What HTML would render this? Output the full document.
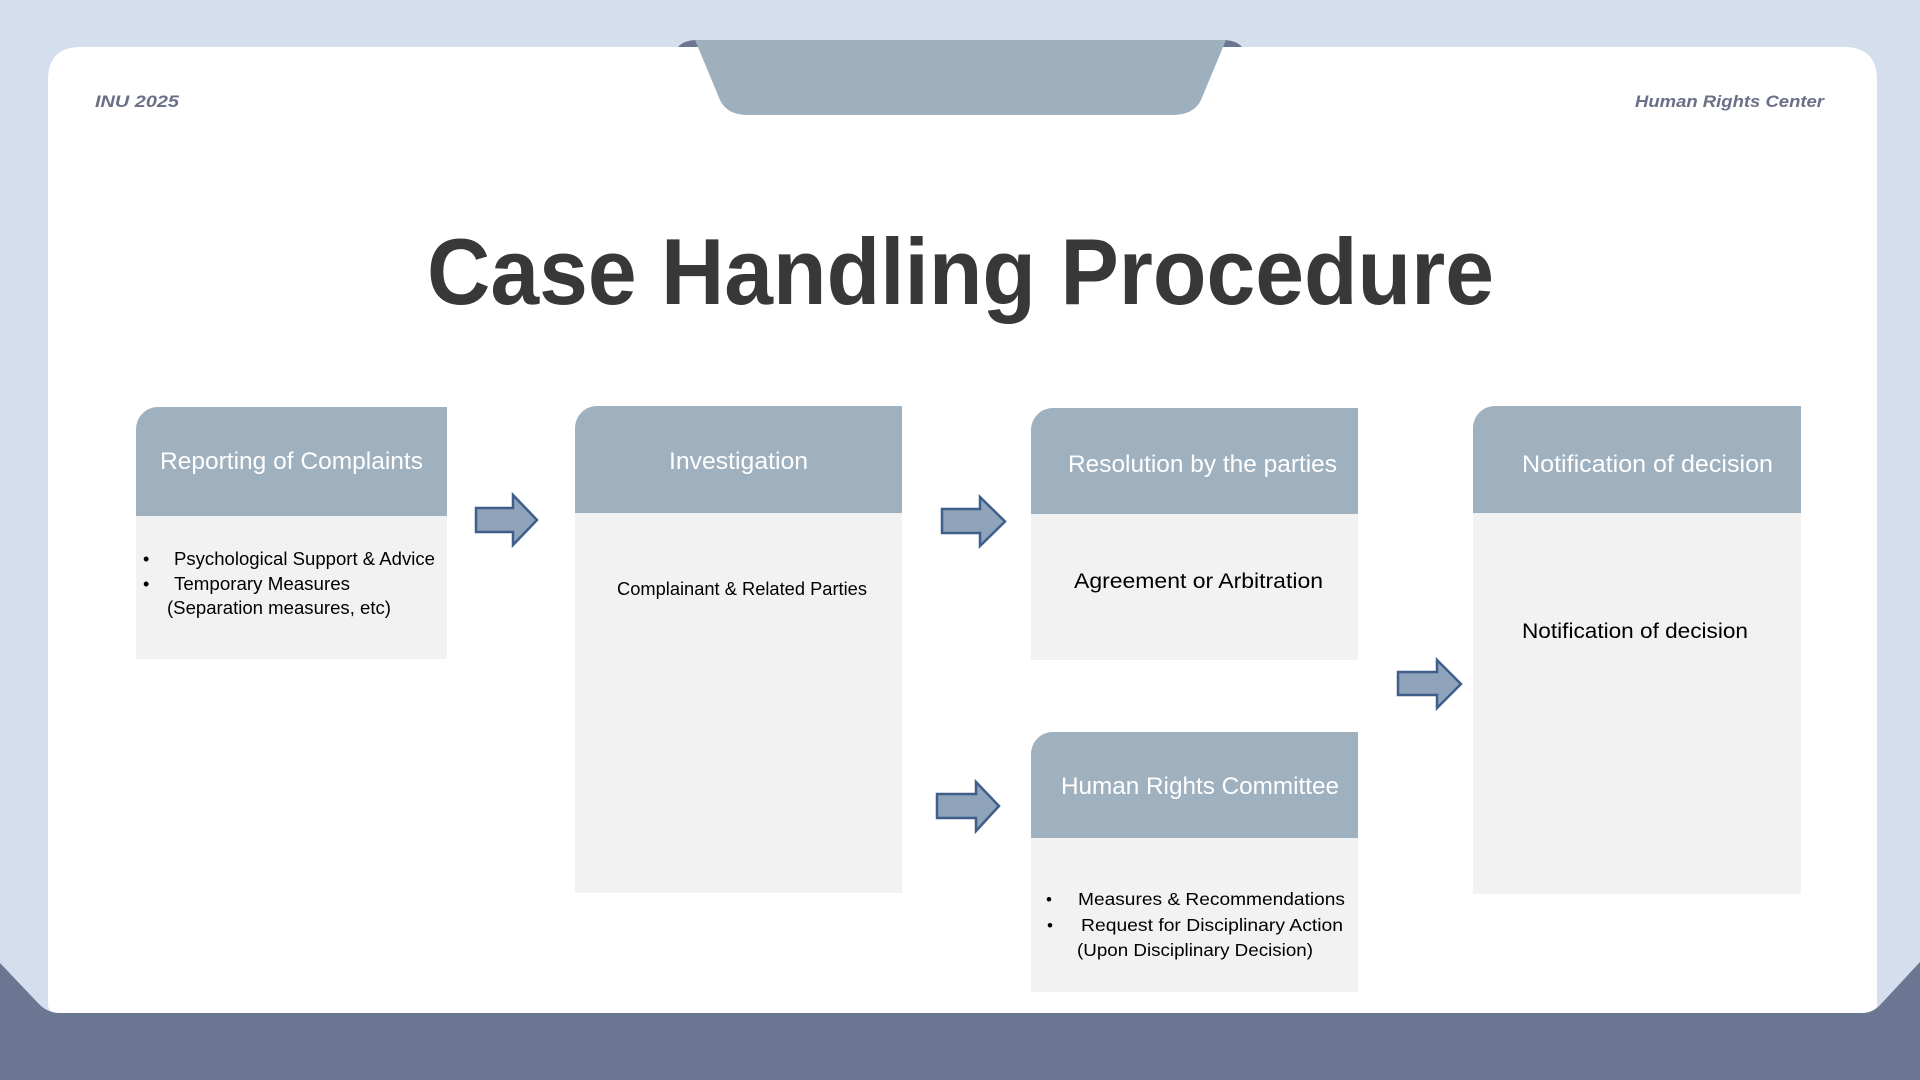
<!DOCTYPE html>
<html>
<head>
<meta charset="utf-8">
<style>
  html, body { margin: 0; padding: 0; width: 1920px; height: 1080px; overflow: hidden; background: #d4deed; }
  svg { display: block; }
  text { font-family: "Liberation Sans", "DejaVu Sans", sans-serif; }
</style>
</head>
<body>
<svg width="1920" height="1080" viewBox="0 0 1920 1080" xmlns="http://www.w3.org/2000/svg">
  <!-- background -->
  <rect x="0" y="0" width="1920" height="1080" fill="#d4deed"/>

  <!-- white card -->
  <path d="M48,80 Q48,47 81,47 L1844,47 Q1877,47 1877,80 L1877,1004 Q1877,1013 1868,1013 L57,1013 Q48,1013 48,1004 Z" fill="#ffffff"/>

  <!-- bottom dark band -->
  <path d="M0,963 L38,1003 Q47,1013 60,1013 L1862,1013 Q1873,1013 1881,1004 L1920,962 L1920,1080 L0,1080 Z" fill="#6b7692"/>

  <!-- top tab -->
  <path d="M678,47 Q684,40 697,40 L700,47 Z" fill="#6b7692"/>
  <path d="M1223,40 Q1236,40 1242,47 L1220,47 Z" fill="#6b7692"/>
  <path d="M695,40 L1226,40 L1201,100 Q1194,115 1172,115 L748,115 Q727,115 720,100 Z" fill="#9eafbe"/>

  <!-- header texts -->
  <text x="95" y="107" font-size="17" font-weight="bold" font-style="italic" fill="#6b7088" textLength="84" lengthAdjust="spacingAndGlyphs">INU 2025</text>
  <text x="1635" y="107" font-size="17" font-weight="bold" font-style="italic" fill="#6b7088" textLength="189" lengthAdjust="spacingAndGlyphs">Human Rights Center</text>

  <!-- title -->
  <text x="427" y="304" font-size="94" font-weight="bold" fill="#383838" textLength="1067" lengthAdjust="spacingAndGlyphs">Case Handling Procedure</text>

  <!-- Box 1: Reporting of Complaints -->
  <rect x="136" y="516" width="311" height="143" fill="#f2f2f2"/>
  <path d="M136,429 A22,22 0 0 1 158,407 L447,407 L447,516 L136,516 Z" fill="#9fb0bf"/>
  <text x="160" y="469" font-size="24.5" fill="#ffffff" textLength="263" lengthAdjust="spacingAndGlyphs">Reporting of Complaints</text>
  <text x="143" y="565" font-size="18" fill="#000000">•</text>
  <text x="174" y="565" font-size="18.5" fill="#000000" textLength="261" lengthAdjust="spacingAndGlyphs">Psychological Support &amp; Advice</text>
  <text x="143" y="590" font-size="18" fill="#000000">•</text>
  <text x="174" y="590" font-size="18.5" fill="#000000" textLength="176" lengthAdjust="spacingAndGlyphs">Temporary Measures</text>
  <text x="167" y="614" font-size="18.5" fill="#000000" textLength="224" lengthAdjust="spacingAndGlyphs">(Separation measures, etc)</text>

  <!-- Box 2: Investigation -->
  <rect x="575" y="513" width="327" height="380" fill="#f2f2f2"/>
  <path d="M575,428 A22,22 0 0 1 597,406 L902,406 L902,513 L575,513 Z" fill="#9fb0bf"/>
  <text x="669" y="469" font-size="24.5" fill="#ffffff" textLength="139" lengthAdjust="spacingAndGlyphs">Investigation</text>
  <text x="617" y="595" font-size="18" fill="#000000" textLength="250" lengthAdjust="spacingAndGlyphs">Complainant &amp; Related Parties</text>

  <!-- Box 3: Resolution by the parties -->
  <rect x="1031" y="514" width="327" height="146" fill="#f2f2f2"/>
  <path d="M1031,430 A22,22 0 0 1 1053,408 L1358,408 L1358,514 L1031,514 Z" fill="#9fb0bf"/>
  <text x="1068" y="472" font-size="24.5" fill="#ffffff" textLength="269" lengthAdjust="spacingAndGlyphs">Resolution by the parties</text>
  <text x="1074" y="588" font-size="21" fill="#000000" textLength="249" lengthAdjust="spacingAndGlyphs">Agreement or Arbitration</text>

  <!-- Box 4: Human Rights Committee -->
  <rect x="1031" y="838" width="327" height="154" fill="#f2f2f2"/>
  <path d="M1031,754 A22,22 0 0 1 1053,732 L1358,732 L1358,838 L1031,838 Z" fill="#9fb0bf"/>
  <text x="1061" y="794" font-size="24.5" fill="#ffffff" textLength="278" lengthAdjust="spacingAndGlyphs">Human Rights Committee</text>
  <text x="1046" y="905" font-size="17" fill="#000000">•</text>
  <text x="1078" y="905" font-size="17.5" fill="#000000" textLength="267" lengthAdjust="spacingAndGlyphs">Measures  &amp; Recommendations</text>
  <text x="1047" y="931" font-size="17" fill="#000000">•</text>
  <text x="1081" y="931" font-size="17.5" fill="#000000" textLength="262" lengthAdjust="spacingAndGlyphs">Request for Disciplinary Action</text>
  <text x="1077" y="956" font-size="17.5" fill="#000000" textLength="236" lengthAdjust="spacingAndGlyphs">(Upon Disciplinary Decision)</text>

  <!-- Box 5: Notification of decision -->
  <rect x="1473" y="513" width="328" height="381" fill="#f2f2f2"/>
  <path d="M1473,428 A22,22 0 0 1 1495,406 L1801,406 L1801,513 L1473,513 Z" fill="#9fb0bf"/>
  <text x="1522" y="472" font-size="24.5" fill="#ffffff" textLength="251" lengthAdjust="spacingAndGlyphs">Notification of decision</text>
  <text x="1522" y="638" font-size="21" fill="#000000" textLength="226" lengthAdjust="spacingAndGlyphs">Notification of decision</text>

  <!-- Arrows -->
  <g fill="#8fa3ba" stroke="#3f5e8c" stroke-width="2.5" stroke-linejoin="miter">
    <path d="M476,508 L513,508 L513,495 L537,520 L513,545 L513,532 L476,532 Z"/>
    <path d="M942,509 L980,509 L980,497 L1005,521.5 L980,546 L980,533 L942,533 Z"/>
    <path d="M937,794 L976,794 L976,782 L999,806 L976,831 L976,818 L937,818 Z"/>
    <path d="M1398,672 L1437,672 L1437,660 L1461,684 L1437,708 L1437,695 L1398,695 Z"/>
  </g>
</svg>
</body>
</html>
